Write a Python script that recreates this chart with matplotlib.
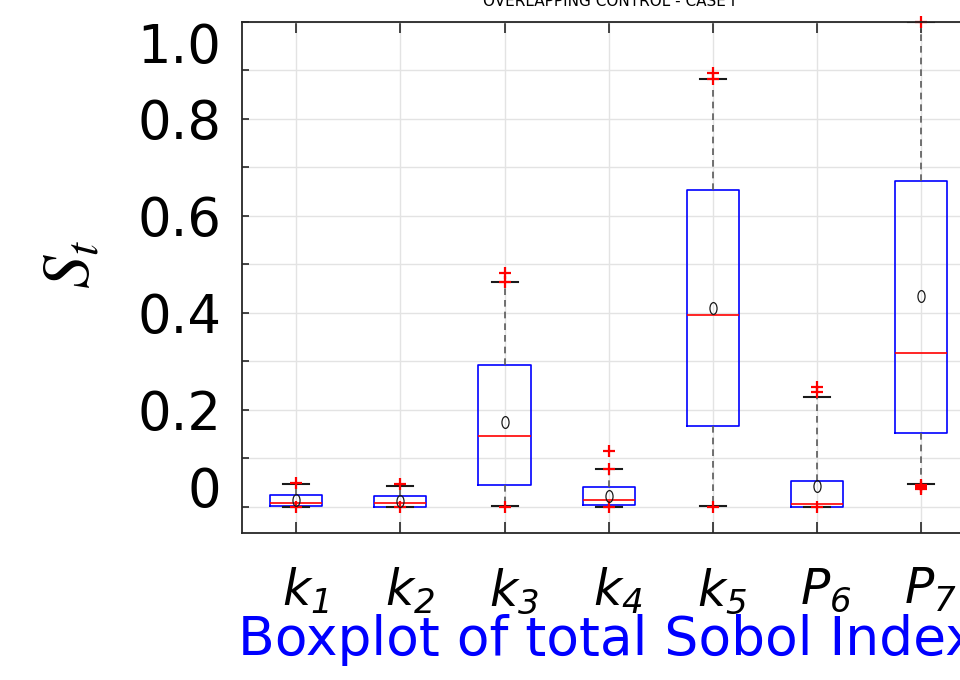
"""Boxplot of total Sobol indices, drawn from summary statistics."""

import matplotlib

matplotlib.use("Agg")
import matplotlib.pyplot as plt
from matplotlib.path import Path
from matplotlib.transforms import Affine2D, ScaledTranslation

plt.rcParams["font.family"] = "DejaVu Sans"
plt.rcParams["mathtext.fontset"] = "custom"
plt.rcParams["mathtext.rm"] = "DejaVu Sans:italic"
plt.rcParams["mathtext.it"] = "DejaVu Sans:italic"

# values
params = [r"$k_1$", r"$k_2$", r"$k_3$", r"$k_4$", r"$k_5$", r"$P_6$", r"$P_7$"]
q1 = [0.002, 0.001, 0.045, 0.004, 0.167, 0.001, 0.153]
median = [0.008, 0.008, 0.146, 0.014, 0.396, 0.007, 0.318]
q3 = [0.025, 0.023, 0.293, 0.041, 0.653, 0.054, 0.672]
mean = [0.014, 0.013, 0.175, 0.023, 0.410, 0.044, 0.435]
whisker_lo = [0.001, 0.001, 0.002, 0.001, 0.002, 0.001, 0.048]
whisker_hi = [0.047, 0.043, 0.463, 0.078, 0.882, 0.227, 1.000]
outliers = [
    [0.000, 0.049],
    [0.000, 0.047],
    [0.000, 0.463, 0.483],
    [0.000, 0.079, 0.115],
    [0.001, 0.882, 0.895],
    [0.000, 0.238, 0.248],
    [0.038, 0.042, 0.046, 1.000],
]
y_ticks = [0.0, 0.1, 0.2, 0.3, 0.4, 0.5, 0.6, 0.7, 0.8, 0.9, 1.0]
y_tick_labels = ["0", "", "0.2", "", "0.4", "", "0.6", "", "0.8", "", "1.0"]

stats = [
    dict(label=params[i], q1=q1[i], med=median[i], q3=q3[i], mean=mean[i],
         whislo=whisker_lo[i], whishi=whisker_hi[i], fliers=outliers[i])
    for i in range(len(params))
]

fig = plt.figure(figsize=(9.6, 6.8), dpi=100)
ax = fig.add_axes([0.2521, 0.2162, 0.7618, 0.7515])

ellipse = Path.unit_circle().transformed(Affine2D().scale(0.6, 1.0))

parts = ax.bxp(
    stats,
    widths=0.5,
    showmeans=True,
    boxprops=dict(color="#0000ff", linewidth=1.2),
    medianprops=dict(color="#ff0000", linewidth=1.2),
    whiskerprops=dict(color="#5a5a5a", linewidth=1.2, linestyle=(0, (4, 3))),
    capprops=dict(color="#1a1a1a", linewidth=1.5),
    capwidths=0.25,
    flierprops=dict(marker="+", markeredgecolor="#ff0000", markersize=8,
                    markeredgewidth=1.6, linestyle="none"),
    meanprops=dict(marker=ellipse, markerfacecolor="none",
                   markeredgecolor="#1a1a1a", markersize=8.5, markeredgewidth=0.9),
)
for f in parts["fliers"]:
    f.set_clip_on(False)

ax.set_xlim(0.48, 7.5)
ax.set_ylim(-0.0536, 1.0)
ax.set_yticks(y_ticks)
ax.set_yticklabels(y_tick_labels)
ax.set_axisbelow(True)
ax.grid(True, color="#e3e3e3", linewidth=1.0)

ax.tick_params(axis="y", direction="in", length=5, width=1.2, labelsize=38,
               pad=15, colors="#262626", labelcolor="black")
ax.tick_params(axis="x", direction="in", length=8, width=1.2, labelsize=35,
               pad=24, top=True, colors="#262626", labelcolor="black")
ylabels = ax.get_yticklabels()
ylabels[0].set_va("baseline")
ylabels[-1].set_va("top")
shift = ScaledTranslation(9 / 100, 0, fig.dpi_scale_trans)
for lab in ax.get_xticklabels():
    lab.set_transform(lab.get_transform() + shift)

for side in ("left", "top", "bottom", "right"):
    ax.spines[side].set_color("#262626")
    ax.spines[side].set_linewidth(1.3)

ax.set_xlabel("Boxplot of total Sobol Index", fontsize=38.5, color="#0000ff")
ax.xaxis.set_label_coords(0.5, -0.159)
ax.set_ylabel(r"$S_t$", fontsize=48, math_fontfamily="stix")
ax.yaxis.set_label_coords(-0.19, 0.526)

fig.text(0.634, 1 - 6 / 680, "OVERLAPPING CONTROL - CASE I", fontsize=11,
         ha="center", va="baseline")

fig.savefig("out.png", dpi=100)
